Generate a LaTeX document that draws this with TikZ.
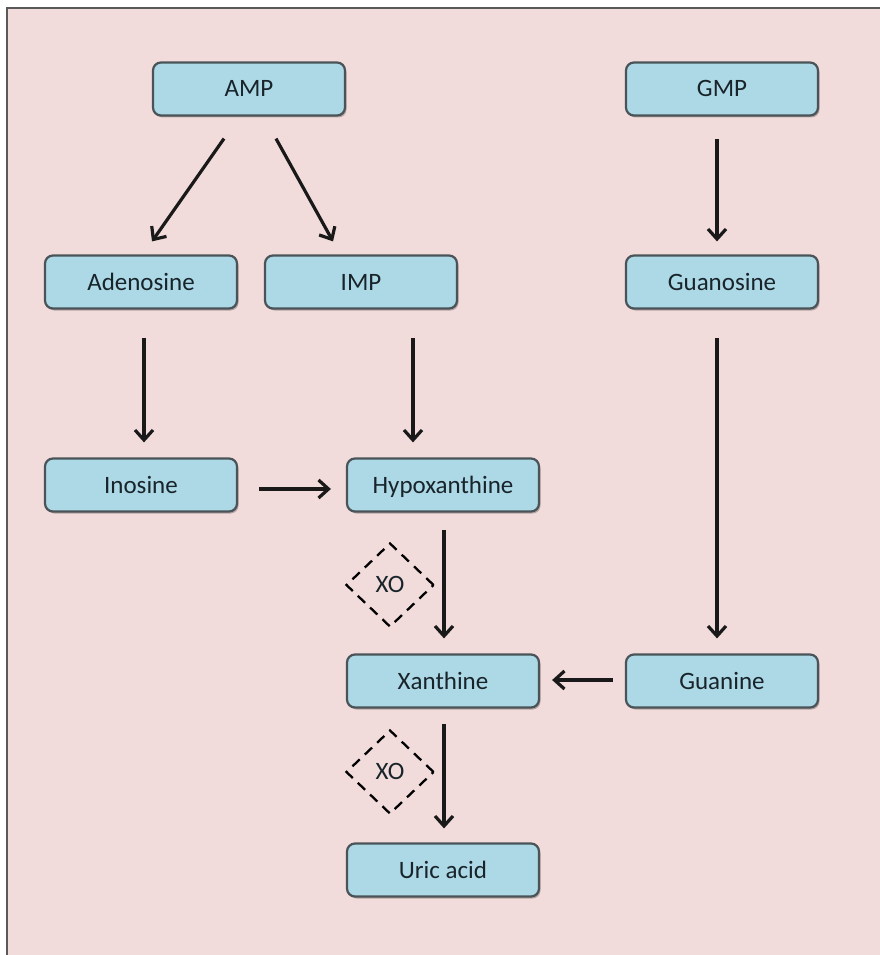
\documentclass[tikz,border=0pt]{standalone}
\usepackage{fontspec}
\setmainfont{Carlito}
\usetikzlibrary{arrows.meta,shapes.geometric,shadows}
\definecolor{bgpink}{HTML}{F2DCDB}
\definecolor{boxblue}{HTML}{ADD8E6}
\definecolor{boxedge}{HTML}{4A5458}
\definecolor{txt}{HTML}{18242A}
\begin{document}
\begin{tikzpicture}[x=1pt,y=-1pt,
  compound/.style={draw=boxedge, line width=2.2pt, fill=boxblue, rounded corners=8pt,
    minimum width=192pt, minimum height=53pt, inner sep=0pt,
    text height=16pt, text depth=0pt,
    text=txt, font=\fontsize{25}{30}\selectfont,
    drop shadow={shadow xshift=1.5pt, shadow yshift=-2pt, opacity=0.25, fill=black}},
  enzyme/.style={draw=black, dash pattern=on 10pt off 7pt, line width=2.3pt,
    diamond, minimum width=88pt, minimum height=84pt, inner sep=0pt,
    text height=14pt, text depth=0pt,
    text=txt, font=\fontsize{25}{30}\selectfont},
  arr/.style={-{Straight Barb[length=10pt,width=18pt,line width=3.2pt]}, line width=3.2pt, black!90}]
% canvas and frame
\useasboundingbox (0,0) rectangle (880,955);
\fill[bgpink] (7,8) rectangle (880,955);
\draw[gray!70!black, line width=2pt] (7,955) -- (7,8) -- (880,8);

% compounds
\node[compound] (amp)   at (249,89)  {AMP};
\node[compound] (gmp)   at (722,89)  {GMP};
\node[compound] (adeno) at (141,282) {Adenosine};
\node[compound] (imp)   at (361,282) {IMP};
\node[compound] (guano) at (722,282) {Guanosine};
\node[compound] (inos)  at (141,485) {Inosine};
\node[compound] (hypox) at (443,485) {Hypoxanthine};
\node[compound] (xan)   at (443,681) {Xanthine};
\node[compound] (guan)  at (722,681) {Guanine};
\node[compound] (uric)  at (443,870) {Uric acid};

% xanthine oxidase marks
\node[enzyme] (xo1) at (390,585) {XO};
\node[enzyme] (xo2) at (390,772) {XO};

% reactions
\draw[arr] ([shift={(-25,22)}]amp.south) -- ([shift={(11,-13)}]adeno.north);
\draw[arr] ([shift={(27,22)}]amp.south) -- ([shift={(-28,-13)}]imp.north);
\draw[arr] ([shift={(-5,22)}]gmp.south) -- ([shift={(-5,-13)}]guano.north);
\draw[arr] ([shift={(3,28)}]adeno.south) -- ([shift={(3,-15)}]inos.north);
\draw[arr] ([shift={(52,28)}]imp.south) -- ([shift={(-30,-15)}]hypox.north);
\draw[arr] ([shift={(-5,28)}]guano.south) -- ([shift={(-5,-15)}]guan.north);
\draw[arr] ([shift={(21,4)}]inos.east) -- ([shift={(-15,4)}]hypox.west);
\draw[arr] ([shift={(1,17)}]hypox.south) -- ([shift={(1,-15)}]xan.north);
\draw[arr] ([shift={(-12,-1)}]guan.west) -- ([shift={(12,-1)}]xan.east);
\draw[arr] ([shift={(1,15)}]xan.south) -- ([shift={(1,-14)}]uric.north);
\end{tikzpicture}
\end{document}
